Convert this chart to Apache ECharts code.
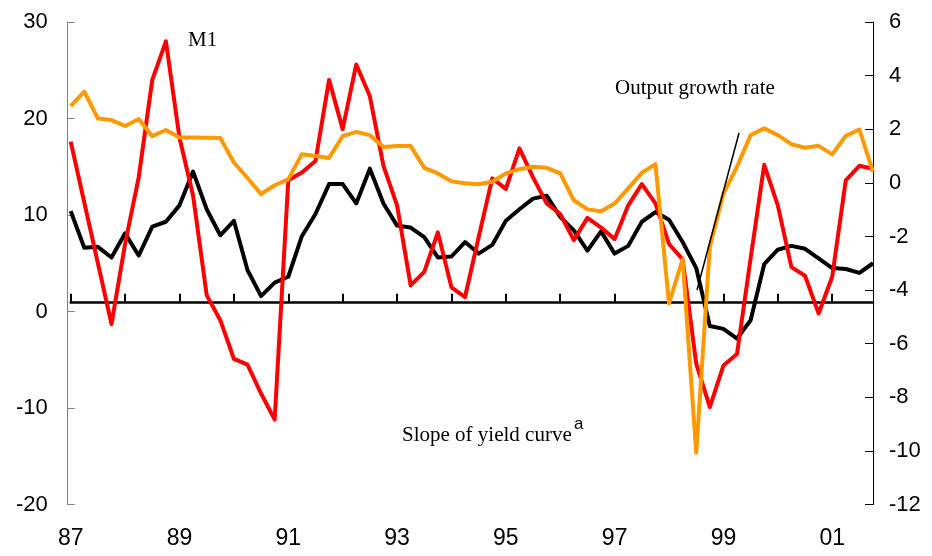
<!DOCTYPE html>
<html>
<head>
<meta charset="utf-8">
<script src="https://cdn.jsdelivr.net/npm/echarts@6/dist/echarts.min.js"></script>
<style>
	html, body { margin: 0; padding: 0; background: #fff; }
	#chart { width: 932px; height: 556px; }
</style>
</head>
<body>
<div id="chart"></div>
<script>
// quarterly, 1987Q1 - 2001Q4
const years = [ '87', '88', '89', '90', '91', '92', '93', '94', '95', '96', '97', '98', '99', '00', '01' ];
const quarters = [ 'Q1', 'Q2', 'Q3', 'Q4' ];
const categories = years.flatMap( ( y ) => quarters.map( ( q ) => y + q ) );

// M1 growth, left axis
const m1Growth = [
	17.6, 11.3, 5.0, -1.3, 7.0, 13.9, 24.0, 28.0, 18.0, 12.0,
	1.7, -0.9, -4.9, -5.5, -8.5, -11.2, 13.6, 14.4, 15.6, 24.0,
	18.9, 25.6, 22.3, 15.1, 11.0, 2.7, 4.1, 8.2, 2.5, 1.5,
	7.7, 13.8, 12.7, 16.9, 13.9, 11.2, 10.1, 7.4, 9.7, 8.7,
	7.5, 11.0, 13.2, 11.2, 7.0, 5.4, -5.4, -9.9, -5.6, -4.4,
	5.5, 15.2, 11.0, 4.6, 3.7, -0.2, 3.6, 13.6, 15.1, 14.8
];

// output growth rate, right axis
const outputGrowth = [
	2.86, 3.40, 2.40, 2.34, 2.12, 2.38, 1.74, 1.97, 1.69, 1.69,
	1.68, 1.67, 0.76, 0.18, -0.42, -0.09, 0.13, 1.07, 1.00, 0.93,
	1.74, 1.90, 1.78, 1.34, 1.37, 1.37, 0.56, 0.35, 0.06, -0.02,
	-0.05, 0.04, 0.35, 0.51, 0.60, 0.56, 0.35, -0.65, -0.99, -1.06,
	-0.77, -0.21, 0.37, 0.70, -4.50, -2.85, -10.07, -2.39, -0.40, 0.60,
	1.78, 2.03, 1.78, 1.44, 1.31, 1.38, 1.06, 1.75, 1.99, 0.41
];

// slope of yield curve, left axis
const yieldSlope = [
	10.4, 6.6, 6.7, 5.6, 8.1, 5.8, 8.8, 9.3, 11.0, 14.5,
	10.6, 7.9, 9.4, 4.3, 1.6, 3.0, 3.6, 7.8, 10.1, 13.2,
	13.2, 11.2, 14.8, 11.2, 8.9, 8.7, 7.7, 5.6, 5.7, 7.2,
	6.0, 6.9, 9.4, 10.6, 11.7, 12.0, 9.8, 8.4, 6.3, 8.3,
	6.0, 6.8, 9.3, 10.3, 9.5, 7.2, 4.5, -1.5, -1.8, -2.8,
	-0.9, 4.9, 6.4, 6.8, 6.5, 5.5, 4.5, 4.4, 4.0, 5.0
];

const chart = echarts.init( document.getElementById( 'chart' ) );
const serif = 'Liberation Serif';
const sans = 'Liberation Sans';

const lineSeries = ( data, color, yAxisIndex, z ) => ( {
	type: 'line',
	data: data,
	yAxisIndex: yAxisIndex,
	symbol: 'none',
	z: z,
	lineStyle: { color: color, width: 4, join: 'round' }
} );

chart.setOption( {
	animation: false,
	backgroundColor: '#fff',
	grid: { left: 70.7, right: 59, top: 22, bottom: 51.5 },
	xAxis: [
		{
			type: 'category',
			data: categories,
			boundaryGap: false,
			axisLine: { show: false, onZero: false },
			axisTick: { show: false },
			axisLabel: {
				interval: 7,
				formatter: ( v ) => v.slice( 0, 2 ),
				fontFamily: sans,
				fontSize: 23,
				color: '#000',
				margin: 23
			},
			splitLine: { show: false }
		},
		{
			// the crossing line with upward ticks
			type: 'category',
			data: categories,
			boundaryGap: false,
			position: 'bottom',
			axisLine: { onZero: true, onZeroAxisIndex: 2, lineStyle: { color: '#000', width: 2.5 } },
			axisTick: { inside: true, interval: 3, length: 8, lineStyle: { color: '#000', width: 2 } },
			axisLabel: { show: false },
			splitLine: { show: false }
		}
	],
	yAxis: [
		{
			type: 'value',
			min: -20,
			max: 30,
			interval: 10,
			position: 'left',
			offset: 3,
			axisLine: { show: true, lineStyle: { color: '#808080', width: 1 } },
			axisTick: { show: true, inside: true, length: 7, lineStyle: { color: '#808080' } },
			axisLabel: { fontFamily: sans, fontSize: 22, color: '#000', margin: 20 },
			splitLine: { show: false }
		},
		{
			type: 'value',
			min: -12,
			max: 6,
			interval: 2,
			position: 'right',
			axisLine: { show: true, lineStyle: { color: '#000', width: 1 } },
			axisTick: { show: true, inside: true, length: 8, lineStyle: { color: '#000' } },
			axisLabel: { fontFamily: sans, fontSize: 22, color: '#000', margin: 16 },
			splitLine: { show: false }
		},
		{
			// hidden helper axis, its zero sets where the horizontal line crosses
			type: 'value',
			min: -42,
			max: 58,
			show: false
		}
	],
	series: [
		lineSeries( yieldSlope, '#000000', 0, 2 ),
		lineSeries( m1Growth, '#ff0000', 0, 3 ),
		lineSeries( outputGrowth, '#ff9900', 1, 4 )
	],
	graphic: [
		{
			type: 'text', left: 188, top: 30,
			style: { text: 'M1', font: '21px "' + serif + '"', fill: '#000' }
		},
		{
			type: 'text', left: 615, top: 78,
			style: { text: 'Output growth rate', font: '21px "' + serif + '"', fill: '#000' }
		},
		{
			type: 'line', z: 10,
			shape: { x1: 739, y1: 133, x2: 697, y2: 290 },
			style: { stroke: '#000', lineWidth: 1.5 }
		},
		{
			type: 'text', left: 402, top: 425,
			style: { text: 'Slope of yield curve', font: '21px "' + serif + '"', fill: '#000' }
		},
		{
			type: 'text', left: 574, top: 416,
			style: { text: 'a', font: '17px "' + sans + '"', fill: '#000' }
		}
	]
} );
</script>
</body>
</html>
